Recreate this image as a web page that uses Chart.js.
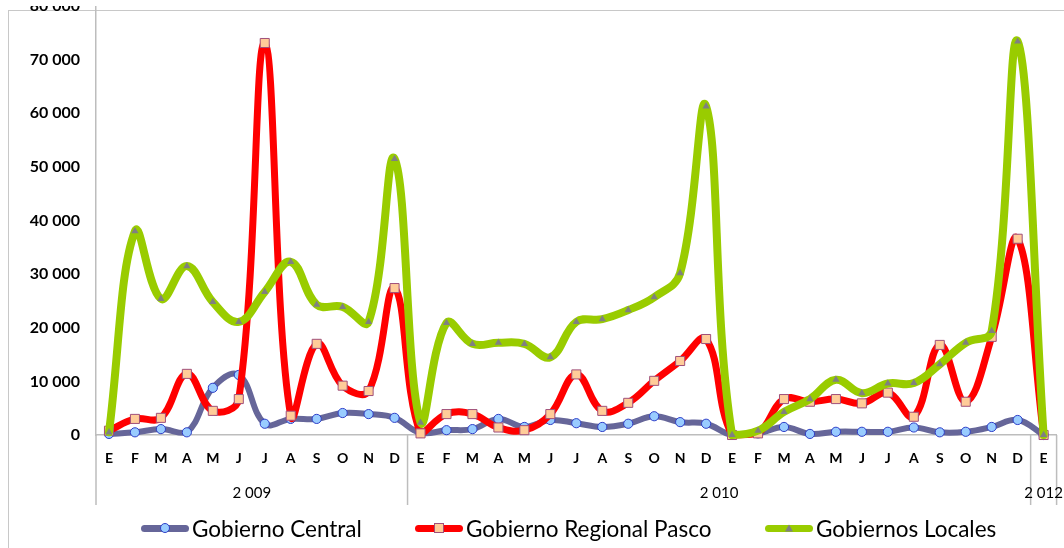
<!DOCTYPE html>
<html>
<head>
<meta charset="utf-8">
<script src="https://cdn.jsdelivr.net/npm/chart.js@4.4.1/dist/chart.umd.min.js"></script>
<style>
  html, body { margin:0; padding:0; background:#fff; width:1064px; height:548px; overflow:hidden; position:relative; font-family: Lato, "Open Sans", sans-serif; }
  #frame { position:absolute; left:8px; top:10px; width:1100px; height:600px; border-left:1.5px solid #c8c8c8; border-top:1.5px solid #c8c8c8; }
  #wrap { position:absolute; left:0; top:-20px; width:1064px; height:568px; }
  #cut { position:absolute; left:0; top:0; width:1064px; height:6px; background:#fff; }
  .item { position:absolute; top:514px; height:28px; display:flex; align-items:center; }
  .sym { position:relative; width:48px; height:28px; }
  .sym .ln { position:absolute; left:0; right:0; top:50%; margin-top:-3.5px; height:7px; border-radius:4px; }
  .sym .mk { position:absolute; left:50%; top:50%; transform:translate(-50%,-50%); box-sizing:border-box; }
  .txt { font-size:22.5px; margin-left:3px; color:#000; white-space:nowrap; }
</style>
</head>
<body>
<div id="frame"></div>
<div id="wrap"><canvas id="c" width="1064" height="568"></canvas></div>
<div id="cut"></div>
<div id="legend"></div>
<script>
// ---- data ----
const months = ['E','F','M','A','M','J','J','A','S','O','N','D',
                'E','F','M','A','M','J','J','A','S','O','N','D',
                'E','F','M','A','M','J','J','A','S','O','N','D',
                'E'];
const groupLabels = ['2 009', '2 010', '2 012'];
const groupSizes = [12, 24, 1];

const seriesNames = ['Gobierno Central', 'Gobierno Regional Pasco', 'Gobiernos Locales'];

const gobiernoCentral = [200, 500, 1100, 500, 8800, 11200, 2100, 3000, 3000, 4100, 3900, 3200,
  400, 900, 1100, 3000, 1500, 2800, 2200, 1500, 2100, 3500, 2400, 2100,
  0, 300, 1500, 200, 600, 600, 600, 1400, 500, 600, 1500, 2800,
  0];

const gobiernoRegional = [800, 3000, 3200, 11400, 4500, 6700, 73100, 3600, 17000, 9200, 8200, 27400,
  300, 3900, 3900, 1400, 900, 3900, 11300, 4500, 6000, 10100, 13800, 17900,
  0, 300, 6700, 6200, 6700, 5900, 7900, 3400, 16800, 6200, 18300, 36600,
  0];

const gobiernosLocales = [500, 38000, 25400, 31500, 24800, 21100, 26700, 32300, 24300, 23900, 21100, 51500,
  2300, 20900, 17000, 17200, 17000, 14500, 21100, 21600, 23300, 25700, 30200, 61300,
  0, 800, 4300, 6700, 10300, 7800, 9600, 9700, 13200, 17200, 19400, 73400,
  0];

const yMin = 0, yMax = 80000, yStep = 10000;

// ---- styles ----
const styles = [
  { line:'#666699', width:6, point:'circle', radius:4.6, fill:'#99CCFF', border:'#2E3EC8', bw:1, order:2 },
  { line:'#FF0000', width:7, point:'rect',   radius:6.4, fill:'#FFCC99', border:'#A0507A', bw:1, order:1 },
  { line:'#99CC00', width:8, point:'triangle', radius:4.2, fill:'#808080', border:'#808080', bw:0, order:0 }
];
const values = [gobiernoCentral, gobiernoRegional, gobiernosLocales];

Chart.defaults.font.family = 'Lato, "Open Sans", sans-serif';
Chart.defaults.color = '#000';

const groupAxis = {
  id: 'groupAxis',
  afterDraw(chart) {
    const x = chart.scales.x, area = chart.chartArea, ctx = chart.ctx;
    const step = x.getPixelForValue(1) - x.getPixelForValue(0);
    ctx.save();
    ctx.strokeStyle = '#bdbdbd';
    ctx.lineWidth = 1.5;
    ctx.fillStyle = '#000';
    ctx.font = '15px Lato, "Open Sans", sans-serif';
    ctx.textAlign = 'center';
    ctx.textBaseline = 'middle';
    let idx = 0;
    const bounds = [x.getPixelForValue(0) - step / 2];
    groupSizes.forEach(n => { idx += n; bounds.push(x.getPixelForValue(idx - 1) + step / 2); });
    bounds.forEach(b => {
      ctx.beginPath(); ctx.moveTo(b, area.bottom); ctx.lineTo(b, area.bottom + 70); ctx.stroke();
    });
    groupLabels.forEach((lab, i) => {
      ctx.fillText(lab, (bounds[i] + bounds[i + 1]) / 2, area.bottom + 58);
    });
    ctx.restore();
  }
};

new Chart(document.getElementById('c'), {
  type: 'line',
  data: {
    labels: months,
    datasets: values.map((v, i) => ({
      label: seriesNames[i],
      data: v,
      borderColor: styles[i].line,
      backgroundColor: styles[i].line,
      borderWidth: styles[i].width,
      tension: 0.4,
      pointStyle: styles[i].point,
      pointRadius: styles[i].radius,
      pointBackgroundColor: styles[i].fill,
      pointBorderColor: styles[i].border,
      pointBorderWidth: styles[i].bw,
      order: styles[i].order,
      clip: false,
      borderCapStyle: 'round',
      borderJoinStyle: 'round'
    }))
  },
  options: {
    responsive: false,
    animation: false,
    layout: { padding: { top: 26, right: 4, left: 0, bottom: 0 } },
    plugins: { legend: { display: false }, tooltip: { enabled: false } },
    scales: {
      x: {
        offset: true,
        grid: { display: false, drawTicks: false },
        border: { display: true, color: '#bdbdbd', width: 1.5 },
        ticks: { font: { size: 14, weight: 'bold' }, padding: 15, maxRotation: 0, autoSkip: false },
        afterFit(s) { s.height = 113; }
      },
      y: {
        min: yMin, max: yMax,
        grid: { display: false, drawTicks: false },
        border: { display: true, color: '#bdbdbd', width: 1.5 },
        ticks: {
          stepSize: yStep,
          padding: 16,
          font: { size: 16, weight: 'bold' },
          callback: v => String(v).replace(/\B(?=(\d{3})+(?!\d))/g, ' ')
        },
        afterFit(s) { s.width = 96; }
      }
    }
  },
  plugins: [groupAxis]
});

// ---- legend (HTML) ----
const legendLeft = [141, 415, 765];
const legend = document.getElementById('legend');
seriesNames.forEach((name, i) => {
  const st = styles[i];
  const item = document.createElement('div');
  item.className = 'item';
  item.style.left = legendLeft[i] + 'px';
  let mk;
  if (st.point === 'circle') {
    mk = '<div class="mk" style="width:10px;height:10px;border-radius:50%;background:' + st.fill + ';border:1px solid ' + st.border + '"></div>';
  } else if (st.point === 'rect') {
    mk = '<div class="mk" style="width:10px;height:10px;background:' + st.fill + ';border:1px solid ' + st.border + '"></div>';
  } else {
    mk = '<div class="mk" style="width:0;height:0;border-left:4px solid transparent;border-right:4px solid transparent;border-bottom:7px solid ' + st.fill + '"></div>';
  }
  item.innerHTML = '<div class="sym"><div class="ln" style="background:' + st.line + '"></div>' + mk + '</div><span class="txt">' + name + '</span>';
  legend.appendChild(item);
});
</script>
</body>
</html>
